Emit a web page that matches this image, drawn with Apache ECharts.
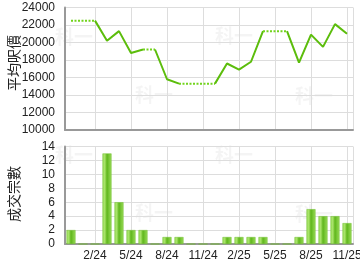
<!DOCTYPE html>
<html><head><meta charset="utf-8">
<script src="https://cdn.jsdelivr.net/npm/echarts@6/dist/echarts.min.js"></script>
<style>html,body{margin:0;padding:0;background:#fff}#c{width:360px;height:270px}</style>
</head><body><div id="c"></div>
<script>
// months Dec 2023 .. Nov 2025
var months = ['12/23','1/24','2/24','3/24','4/24','5/24','6/24','7/24','8/24','9/24','10/24','11/24','12/24','1/25','2/25','3/25','4/25','5/25','6/25','7/25','8/25','9/25','10/25','11/25'];
// average price per sq ft as drawn (carried values where no deals)
var avgPrice = [22500,22500,22500,20200,21300,18800,19200,19200,15800,15300,15300,15300,15300,17600,16900,17800,21300,21300,21300,17700,20900,19500,22100,21000];
// months with no transactions (value carried forward, drawn dotted)
var carried = [false,true,true,false,false,false,false,true,false,false,true,true,true,false,false,false,false,true,true,false,false,false,false,false];
// number of transactions
var deals = [2,0,0,13,6,2,2,0,1,1,0,0,0,1,1,1,1,0,0,1,5,4,4,3];
var tickLabels = ['2/24','5/24','8/24','11/24','2/25','5/25','8/25','11/25'];
var priceTicks = [10000,12000,14000,16000,18000,20000,22000,24000];
var dealTicks = [0,2,4,6,8,10,12,14];
var axisNames = ['平均呎價', '成交宗數'];

var FONT = "'Liberation Sans', Arial, sans-serif";
var CJK = "'Noto Sans CJK TC', sans-serif";
var chart = echarts.init(document.getElementById('c'), null, {renderer:'canvas'});

// half-month slots: month i sits at slot 2i+1, plot edges at slots 0 and 48
var slots = [];
for (var k = 0; k <= months.length * 2; k++) slots.push(k % 2 ? months[(k-1)/2] : '');
function isTick(index, value){ return tickLabels.indexOf(value) >= 0; }
function isGrid(index, value){ return tickLabels.indexOf(value) >= 0 || index === slots.length - 1; }

// build line runs: segment i->i+1 dotted if point i+1 carried
var runs = [];
var run = null;
for (var i = 0; i < avgPrice.length - 1; i++) {
  var dotted = carried[i+1];
  if (!run || run.dotted !== dotted) {
    run = {dotted: dotted, pts: [[2*i+1, avgPrice[i]]]};
    runs.push(run);
  }
  run.pts.push([2*(i+1)+1, avgPrice[i+1]]);
}
var series = runs.map(function(r){
  return {
    type:'line', xAxisIndex:0, yAxisIndex:0, data:r.pts, symbol:'none', silent:true, connectNulls:true,
    lineStyle: r.dotted ? {color:'#72d41c', width:2, type:[2,1.5], cap:'butt'} : {color:'#5cbd0c', width:2}
  };
});
series.push({
  type:'bar', xAxisIndex:1, yAxisIndex:1, barWidth:9,
  data: deals.map(function(v,i){ return [2*i+1, v]; }),
  itemStyle:{
    color:new echarts.graphic.LinearGradient(0,0,1,0,[
      {offset:0,color:'#9ddc5c'},{offset:0.25,color:'#a9e46a'},{offset:0.5,color:'#5fb61c'},{offset:0.75,color:'#7cc93a'},{offset:1,color:'#9ddc5c'}]),
    borderColor:'#6cbf2a', borderWidth:0.5
  }
});

function xAxisCfg(grid, showLabels){
  return {
    type:'category', gridIndex:grid, data:slots, boundaryGap:false,
    axisLine:{show:true, lineStyle:{color:'#999', width:2}},
    axisTick:{show:false},
    splitLine:{show:true, interval:isGrid, lineStyle:{color:'#ddd', width:1}},
    axisLabel:{show:showLabels, interval:isTick, color:'#222', fontFamily:FONT, fontSize:12, margin:6}
  };
}
function yAxisCfg(grid, ticks){
  return {
    type:'value', gridIndex:grid, min:ticks[0], max:ticks[ticks.length-1], interval:ticks[1]-ticks[0],
    axisLine:{show:true, lineStyle:{color:'#999', width:2}},
    axisTick:{show:false},
    splitLine:{show:true, lineStyle:{color:'#ddd', width:1}},
    axisLabel:{color:'#222', fontFamily:FONT, fontSize:12, margin:10, formatter:function(v){ return String(v); }}
  };
}

var graphics = [[55,27],[135,85],[215,26],[295,86],[55,145],[135,203],[215,145],[295,204]].map(function(p){
  return {type:'text', left:p[0], top:p[1], z:-1, silent:true,
    style:{text:'科一', fill:'rgba(0,0,0,0.045)', font:'bold 19px '+CJK}};
});
[[14, 63], [14, 194]].forEach(function(p, j){
  graphics.push({type:'text', x:p[0], y:p[1], rotation:Math.PI/2, silent:true,
    style:{text:axisNames[j], fill:'#222', font:'14px '+CJK, align:'center', verticalAlign:'middle'}});
});

chart.setOption({
  animation:false,
  backgroundColor:'#fff',
  graphic: graphics,
  grid:[
    {left:65, right:7, top:7.5, height:122.5, containLabel:false, outerBoundsMode:'none'},
    {left:65, right:7, top:146.5, height:97.5, containLabel:false, outerBoundsMode:'none'}
  ],
  xAxis:[xAxisCfg(0,false), xAxisCfg(1,true)],
  yAxis:[yAxisCfg(0, priceTicks), yAxisCfg(1, dealTicks)],
  series: series
});
</script></body></html>
